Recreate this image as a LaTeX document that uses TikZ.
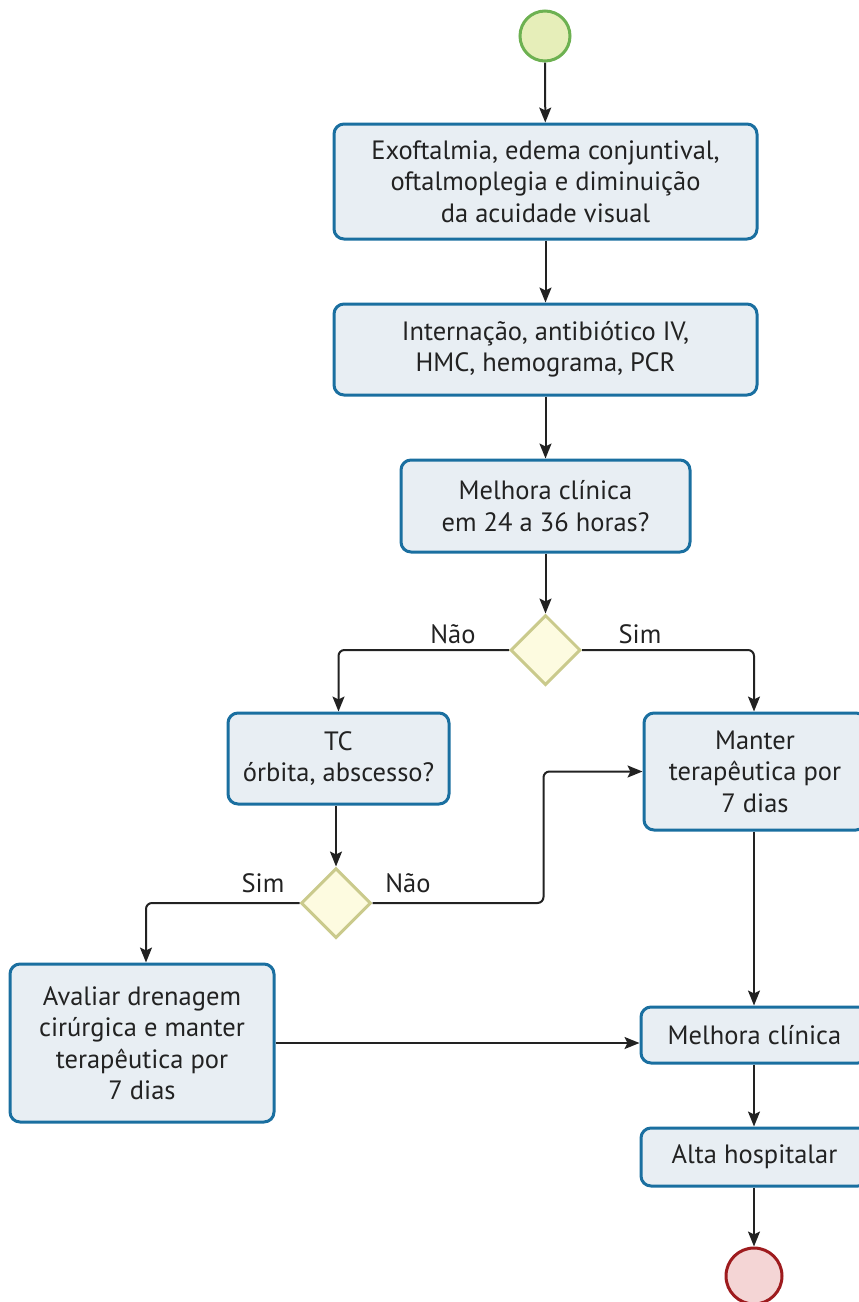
\documentclass[tikz,border=0pt]{standalone}
\usepackage{fontspec}
\setmainfont{PT Sans}
\usetikzlibrary{shapes.geometric,arrows.meta}
\definecolor{boxline}{HTML}{1A6FA0}
\definecolor{boxfill}{HTML}{E8EEF3}
\definecolor{decline}{HTML}{CACA8C}
\definecolor{decfill}{HTML}{FDFBE0}
\definecolor{startline}{HTML}{6DB151}
\definecolor{startfill}{HTML}{E6EEB9}
\definecolor{endline}{HTML}{9E1B1E}
\definecolor{endfill}{HTML}{F4D5D5}
\definecolor{ink}{HTML}{222222}
\begin{document}
\begin{tikzpicture}[x=1pt,y=-1pt,
  every node/.style={font=\fontsize{26.5}{31.5}\selectfont, text=ink},
  stepbox/.style={draw=boxline, fill=boxfill, line width=3pt, rounded corners=10pt,
    align=center, inner sep=0pt},
  decision/.style={diamond, draw=decline, fill=decfill, line width=3pt,
    minimum width=70pt, minimum height=70pt, inner sep=0pt},
  terminal/.style={circle, line width=3pt, minimum size=50pt, inner sep=0pt},
  flow/.style={draw=ink, line width=2pt, -{Stealth[length=15pt,width=12pt,inset=3pt]}}]
\useasboundingbox (0,0) rectangle (859,1302);
\clip (0,0) rectangle (859,1302);

% nodes
\node[terminal, draw=startline, fill=startfill] (start) at (545,36) {};
\node[stepbox, minimum width=423pt, minimum height=115pt] (s1) at (545.5,181.5)
  {Exoftalmia, edema conjuntival,\\oftalmoplegia e diminuição\\da acuidade visual};
\node[stepbox, minimum width=423pt, minimum height=91pt] (s2) at (545.5,349.5)
  {Internação, antibiótico IV,\\HMC, hemograma, PCR};
\node[stepbox, minimum width=289pt, minimum height=92pt] (s3) at (545.5,506)
  {Melhora clínica\\em 24 a 36 horas?};
\node[decision] (d1) at (545.5,650) {};
\node[stepbox, minimum width=221pt, minimum height=91pt] (tc) at (338.5,758.5)
  {TC\\órbita, abscesso?};
\node[stepbox, minimum width=222pt, minimum height=117pt] (keep) at (755,771.5)
  {Manter\\terapêutica por\\7 dias};
\node[decision] (d2) at (336,903) {};
\node[stepbox, minimum width=264pt, minimum height=158pt] (drain) at (142,1043)
  {Avaliar drenagem\\cirúrgica e manter\\terapêutica por\\7 dias};
\node[stepbox, minimum width=227pt, minimum height=56pt] (better) at (754.5,1035)
  {Melhora clínica};
\node[stepbox, minimum width=227pt, minimum height=58pt] (home) at (754.5,1157)
  {Alta hospitalar};
\node[terminal, draw=endline, fill=endfill, minimum size=56pt] (stop) at (754,1276) {};

% branch labels
\node (l1) at (453,634) {Não};
\node (l2) at (640,634) {Sim};
\node (l3) at (263,883) {Sim};
\node (l4) at (408,883) {Não};

% connectors
\draw[flow] (start) -- (s1);
\draw[flow] (s1) -- (s2);
\draw[flow] (s2) -- (s3);
\draw[flow] (s3) -- (d1);
\draw[flow, rounded corners=6pt] (d1.west) -| (tc.north);
\draw[flow, rounded corners=6pt] (d1.east) -| (keep.north -| 754,0);
\draw[flow] (tc.south -| d2.north) -- (d2.north);
\draw[flow, rounded corners=6pt] (d2.west) -| (drain.north -| 146,0);
\draw[flow, rounded corners=6pt] (d2.east) -- ++(171,0) |- (keep.west);
\draw[flow] (drain.east) -- (better.west |- drain.east);
\draw[flow] (keep.south -| 754,0) -- (better.north -| 754,0);
\draw[flow] (better.south -| 754,0) -- (home.north -| 754,0);
\draw[flow] (home.south -| 754,0) -- (stop.north);
\end{tikzpicture}
\end{document}
